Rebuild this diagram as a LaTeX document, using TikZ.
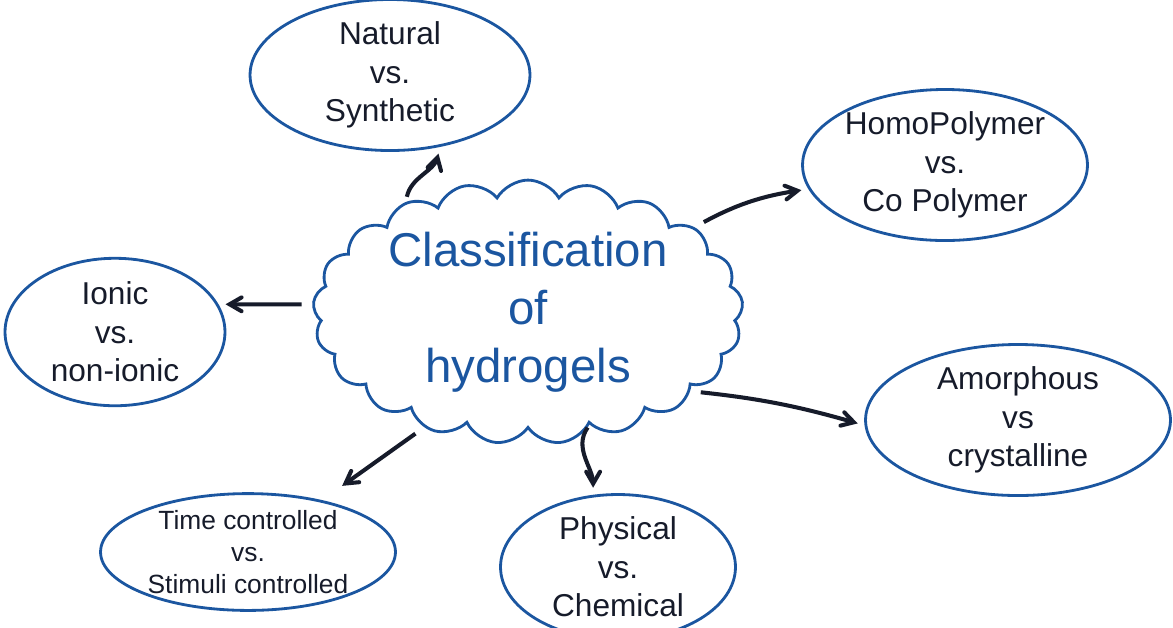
\documentclass[tikz,border=0pt]{standalone}
\usepackage{fontspec}
\setmainfont{Liberation Sans}
\usetikzlibrary{arrows,shapes.geometric,shapes.symbols}
\definecolor{penblue}{HTML}{1B56A0}
\definecolor{inkdark}{HTML}{161B2A}

\begin{document}
\begin{tikzpicture}[x=0.02cm,y=-0.02cm,->,>=angle 60,semithick]
	\tikzstyle{bubble}=[ellipse,draw=penblue,line width=1.6pt,inner sep=0pt,align=center,text=inkdark,font=\fontsize{18}{22}\selectfont]
	\tikzstyle{thick arrow}=[draw=inkdark,line width=2.3pt,shorten <=6pt,shorten >=4pt]
	\useasboundingbox (0,0) rectangle (1173,627);

	\node[cloud,cloud puffs=21,cloud puff arc=120,aspect=1.7,inner sep=0pt,draw=penblue,line width=1.6pt,minimum width=8.6cm,minimum height=5cm,align=center,text=penblue,font=\fontsize{27}{33}\selectfont] (cloud) at (528,312) {Classification\\of\\hydrogels};

	\node[bubble,minimum width=5.6cm,minimum height=2.4cm] (nat) at (390,75) {Natural\\vs.\\Synthetic};
	\node[bubble,minimum width=5.7cm,minimum height=3cm] (homo) at (945,165) {HomoPolymer\\vs.\\Co Polymer};
	\node[bubble,minimum width=4.4cm,minimum height=2.95cm] (ionic) at (115,332) {Ionic\\vs.\\non-ionic};
	\node[bubble,minimum width=6.1cm,minimum height=3cm] (amor) at (1018,420) {Amorphous\\vs\\crystalline};
	\node[bubble,minimum width=4.7cm,minimum height=2.9cm] (phys) at (618,567) {Physical\\vs.\\Chemical};
	\node[bubble,minimum width=5.9cm,minimum height=2.3cm,font=\fontsize{15}{18}\selectfont] (time) at (248,552) {Time controlled\\vs.\\Stimuli controlled};

	\path[thick arrow,shorten <=3pt] (cloud.138) to[out=78,in=-105] (nat.-55);
	\path[thick arrow] (cloud.27) to[bend left=10] (homo.190);
	\path[thick arrow] (cloud.178) -- (ionic.15);
	\path[thick arrow] (cloud.-26) to[bend left=5] (amor.182);
	\path[thick arrow,shorten <=1pt] (cloud.-62) to[out=-125,in=90] (phys.109);
	\path[thick arrow,shorten >=14pt] (cloud.-132) -- (time.35);
\end{tikzpicture}
\end{document}
